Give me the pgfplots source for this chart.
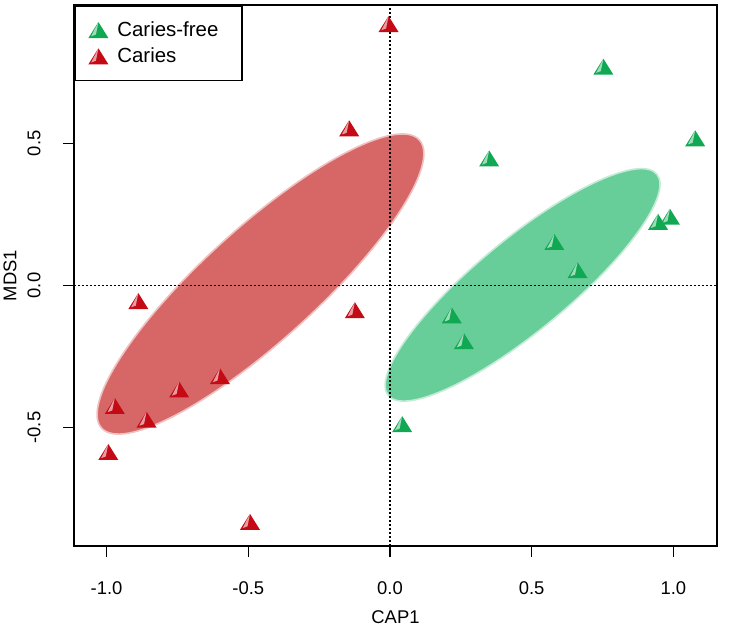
\documentclass[border=0pt]{standalone}
\usepackage{pgfplots}
\pgfplotsset{compat=1.18}
\usepackage{fontspec}
\setmainfont{Liberation Sans}
\definecolor{redfill}{RGB}{215,102,102}
\definecolor{greenfill}{RGB}{104,206,153}
\definecolor{redmark}{RGB}{196,10,20}
\definecolor{greenmark}{RGB}{16,168,82}
\pgfdeclareplotmark{gem}{%
  \pgfpathmoveto{\pgfpoint{0pt}{0.8\pgfplotmarksize}}%
  \pgfpathlineto{\pgfpoint{-\pgfplotmarksize}{-0.8\pgfplotmarksize}}%
  \pgfpathlineto{\pgfpoint{\pgfplotmarksize}{-0.8\pgfplotmarksize}}%
  \pgfpathclose
  \pgfusepathqfill
  \begin{pgfscope}%
  \pgfsetfillcolor{white}\pgfsetfillopacity{0.6}%
  \pgfpathmoveto{\pgfpoint{0pt}{0.8\pgfplotmarksize}}%
  \pgfpathlineto{\pgfpoint{-0.72\pgfplotmarksize}{-0.62\pgfplotmarksize}}%
  \pgfpathlineto{\pgfpoint{-0.25\pgfplotmarksize}{-0.45\pgfplotmarksize}}%
  \pgfpathclose
  \pgfusepathqfill
  \end{pgfscope}%
}
\pgfplotstableread{
x y
0.753 0.770
1.077 0.518
0.350 0.447
0.988 0.242
0.946 0.224
0.580 0.153
0.662 0.054
0.218 -0.105
0.261 -0.196
0.043 -0.488
}\cariesfree
\pgfplotstableread{
x y
-0.005 0.920
-0.144 0.553
-0.888 -0.055
-0.124 -0.087
-0.600 -0.319
-0.744 -0.366
-0.971 -0.424
-0.859 -0.472
-0.994 -0.586
-0.494 -0.832
}\caries
\begin{document}
\begin{tikzpicture}
\useasboundingbox (0,0) rectangle (730bp,626bp);
\begin{axis}[
  at={(74bp,80bp)}, anchor=south west,
  scale only axis, width=643bp, height=541bp,
  xmin=-1.115, xmax=1.154, ymin=-0.917, ymax=0.987,
  axis line style={line width=2.4bp},
  tick align=outside, major tick length=11bp,
  tick style={line width=1.4bp, black},
  tick pos=left,
  xtick={-1,-0.5,0,0.5,1}, xticklabels={-1.0,-0.5,0.0,0.5,1.0},
  ytick={-0.5,0,0.5}, yticklabels={-0.5,0.0,0.5},
  ticklabel style={font=\fontsize{18.5}{20}\selectfont},
  yticklabel style={rotate=90, anchor=south},
  xticklabel shift=21bp, yticklabel shift=19bp,
  label style={font=\fontsize{18.5}{20}\selectfont},
  xlabel={CAP1}, xlabel style={at={(axis description cs:0.5,-0.1307)}, anchor=center},
  ylabel={MDS1}, ylabel style={at={(axis description cs:-0.0995,0.5)}, anchor=center},
  legend style={at={(0,1)}, anchor=north west, draw=black, line width=1.8bp,
    font=\fontsize{20.5}{24}\selectfont, inner xsep=12.5bp, inner ysep=14bp,
    row sep=6bp, cells={anchor=west}},
  legend image code/.code={\path[draw=none, fill=none] (0bp,-8bp) rectangle (28bp,8bp);
    \draw[#1, mark repeat=1] plot coordinates {(11bp,0bp)};},
]
\fill[greenfill, draw=white!60!greenfill, line width=1.6bp,
  rotate around={39.5:(axis cs:0.468,0.002)}]
  (axis cs:0.468,0.002) ellipse [x radius=174bp, y radius=46bp];
\fill[redfill, draw=white!60!redfill, line width=1.6bp,
  rotate around={42.2:(axis cs:-0.457,0.005)}]
  (axis cs:-0.457,0.005) ellipse [x radius=214.5bp, y radius=56.5bp];
\addplot[forget plot, black, line width=1.4bp, dash pattern=on 1.6bp off 2.4bp]
  coordinates {(0,-1) (0,1.1)};
\addplot[forget plot, black, line width=1.4bp, dash pattern=on 1.6bp off 2.4bp]
  coordinates {(-1.2,0) (1.2,0)};
\addplot[only marks, mark=gem, mark size=10bp, color=greenmark,
  mark options={fill=greenmark, draw=none}]
  table[x=x, y=y] {\cariesfree};
\addlegendentry{\makebox[110bp][l]{Caries-free}}
\addplot[only marks, mark=gem, mark size=10bp, color=redmark,
  mark options={fill=redmark, draw=none}]
  table[x=x, y=y] {\caries};
\addlegendentry{Caries}
\end{axis}
\end{tikzpicture}
\end{document}
